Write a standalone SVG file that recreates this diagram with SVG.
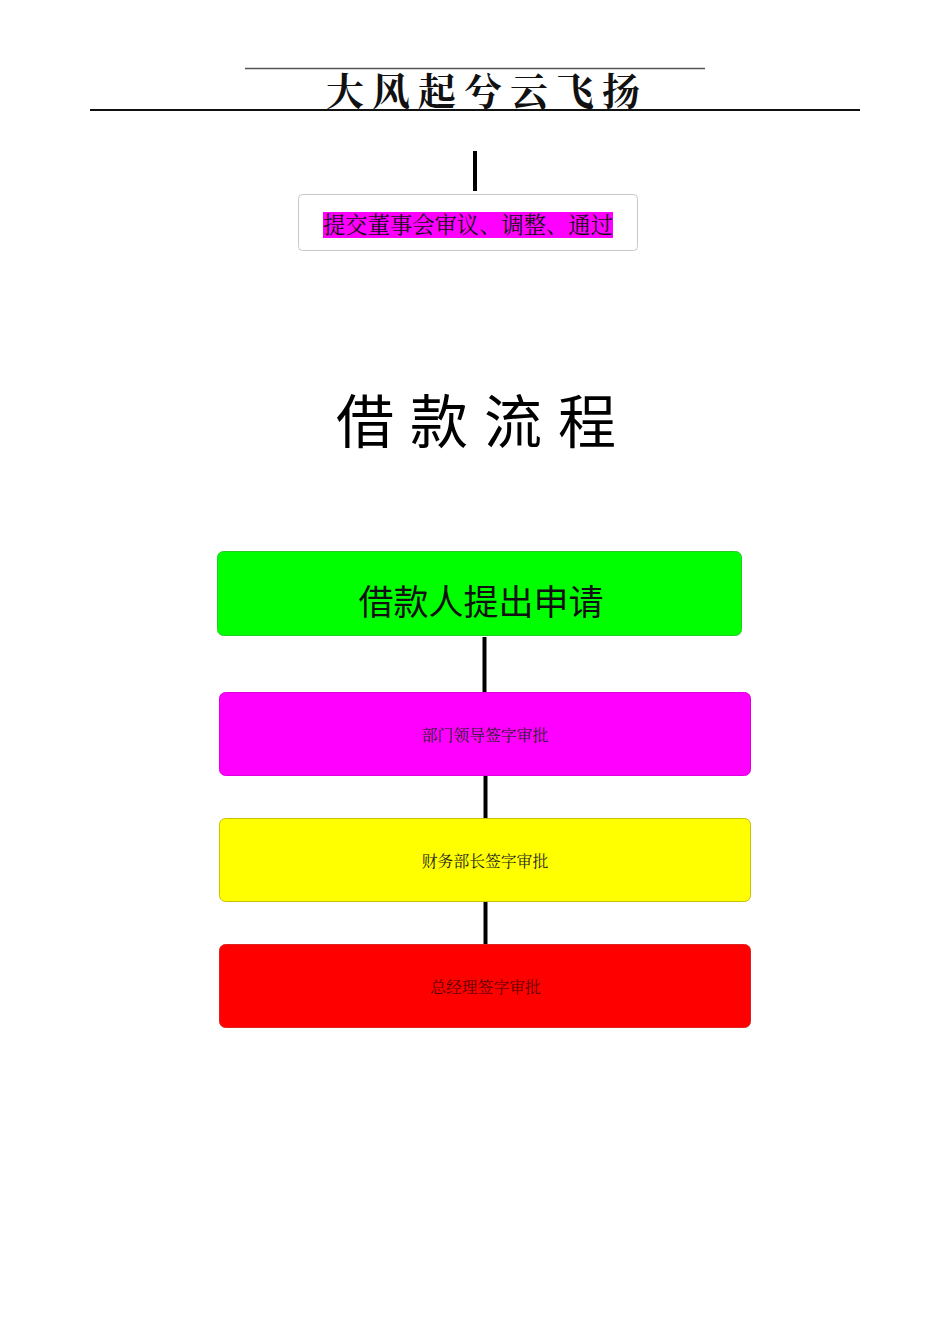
<svg xmlns="http://www.w3.org/2000/svg" width="950" height="1344" viewBox="0 0 950 1344">
<style>
.cjk{font-family:"Noto Serif CJK SC","Noto Sans CJK SC",serif;}
.sans{font-family:"Noto Sans CJK SC",sans-serif;}
.conn{stroke:#000;stroke-width:4;fill:none;}
</style>
<rect width="950" height="1344" fill="#fff"/>
<g id="header">
<line x1="245" y1="68.5" x2="705" y2="68.5" stroke="#555" stroke-width="1.5"/>
<line x1="90" y1="110" x2="860" y2="110" stroke="#111" stroke-width="2"/>
<text x="487" y="105" text-anchor="middle" class="cjk" font-size="38" font-weight="bold" fill="#111" letter-spacing="8">大风起兮云飞扬</text>
</g>
<g id="connectors">
<line class="conn" x1="475" y1="151" x2="475" y2="191" stroke-width="3.5"/>
<line class="conn" x1="484.5" y1="637" x2="484.5" y2="692"/>
<line class="conn" x1="485.5" y1="776" x2="485.5" y2="818"/>
<line class="conn" x1="485.5" y1="902" x2="485.5" y2="944"/>
</g>
<g id="node-board">
<rect x="298.5" y="194.5" width="339" height="56" rx="4" fill="#fff" stroke="#c8c8c8"/>
<rect x="323" y="212" width="290" height="26" fill="#ff00ff"/>
<text x="468" y="233" text-anchor="middle" class="cjk" font-size="22.3" fill="#111">提交董事会审议、调整、通过</text>
</g>
<g id="title">
<text x="484" y="443" text-anchor="middle" class="sans" font-size="58" fill="#000" letter-spacing="16">借款流程</text>
</g>
<g id="node-apply">
<rect x="217.5" y="551.5" width="524" height="84" rx="6" fill="#00ff00" stroke="#22cc22"/>
<text x="481" y="615" text-anchor="middle" class="sans" font-size="35" fill="#111">借款人提出申请</text>
</g>
<g id="node-dept">
<rect x="219.5" y="692.5" width="531" height="83" rx="6" fill="#ff00ff" stroke="#dd00dd"/>
<text x="485" y="741" text-anchor="middle" class="cjk" font-size="15.8" fill="#222">部门领导签字审批</text>
</g>
<g id="node-finance">
<rect x="219.5" y="818.5" width="531" height="83" rx="6" fill="#ffff00" stroke="#c8c000"/>
<text x="485" y="867" text-anchor="middle" class="cjk" font-size="15.8" fill="#222">财务部长签字审批</text>
</g>
<g id="node-gm">
<rect x="219.5" y="944.5" width="531" height="83" rx="6" fill="#ff0000" stroke="#dd2222"/>
<text x="485.5" y="993" text-anchor="middle" class="cjk" font-size="15.8" fill="#550000">总经理签字审批</text>
</g>
</svg>
